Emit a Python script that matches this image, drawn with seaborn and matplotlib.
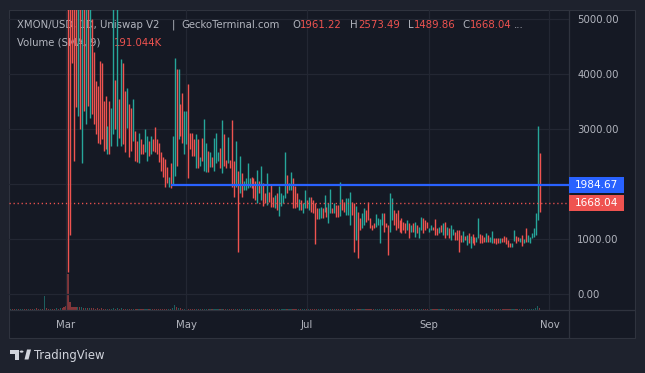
import pandas as pd
import matplotlib
matplotlib.use("Agg")
import matplotlib.pyplot as plt
import matplotlib.dates as mdates
import matplotlib.transforms as mtransforms
from matplotlib.patches import Rectangle, Polygon, Circle
from matplotlib.lines import Line2D
import seaborn as sns

# XMON/USD daily bars, first bar on 2 Feb 2024 (February bars sit above the visible range)
start_date = "2024-02-02"

highs = [
    9800, 9500, 8900, 9200, 8800, 8600, 8900, 8700, 8400, 8600,
    8300, 8100, 8400, 8200, 8000, 8300, 8100, 9400, 8800, 8500,
    8200, 7900, 7700, 7900, 7600, 7400, 7300, 7200, 7000, 6800,
    6200, 5900, 5800, 5700, 5600, 5500, 5500, 5500, 5600, 5400,
    5400, 5000, 4400, 3870, 3780, 4240, 4200, 3510, 3600, 3060,
    3510, 3390, 5400, 3900, 5400, 3550, 4270, 4200, 3700, 3750,
    3460, 3390, 3550, 2970, 2790, 2940, 2830, 2740, 3010, 2880,
    2790, 2880, 2830, 3050, 2830, 2760, 2580, 2490, 2470, 2310,
    2130, 2380, 2880, 4300, 4090, 4090, 3460, 3660, 3330, 3330,
    3820, 2940, 2940, 2830, 2920, 2830, 2490, 2850, 3190, 2760,
    2610, 2580, 2490, 2850, 2940, 2580, 2670, 3170, 2920, 2450,
    2870, 2450, 3170, 2430, 2790, 2250, 2520, 2200, 2070, 2110,
    2380, 2110, 2130, 2110, 2070, 2270, 2070, 2340, 2020, 1840,
    2200, 1860, 2000, 1780, 1800, 1840, 1980, 1840, 1800, 2580,
    2180, 2020, 2230, 2110, 1980, 1840, 1730, 1710, 1660, 1890,
    1710, 1770, 1770, 1710, 1660, 1570, 1570, 1590, 1570, 1800,
    1590, 1660, 1910, 1570, 1660, 1620, 1620, 2050, 1730, 1680,
    1750, 1750, 1870, 1680, 1660, 1600, 1500, 1390, 1480, 1570,
    1530, 1680, 1390, 1260, 1300, 1460, 1390, 1370, 1480, 1480,
    1300, 1260, 1840, 1750, 1530, 1480, 1530, 1350, 1390, 1320,
    1300, 1350, 1300, 1260, 1300, 1320, 1260, 1230, 1410, 1390,
    1350, 1320, 1210, 1260, 1230, 1370, 1210, 1230, 1260, 1300,
    1320, 1230, 1210, 1260, 1190, 1140, 1170, 1170, 1080, 1150,
    1060, 1080, 1120, 1060, 1100, 1050, 1050, 1390, 1100, 1080,
    1050, 1120, 1080, 1050, 1150, 1030, 1030, 1030, 1030, 1030,
    1060, 1050, 990, 940, 940, 1170, 1060, 1050, 1030, 1080,
    1010, 1210, 1080, 1050, 1120, 1210, 1480, 3060, 2573.49,
]

lows = [
    7400, 7200, 6900, 7000, 6800, 6600, 6900, 6700, 6500, 6600,
    6400, 6300, 6500, 6400, 6200, 6300, 6200, 6400, 6600, 6400,
    6200, 6000, 5900, 6000, 5800, 5700, 5600, 5500, 5400, 400,
    1080, 4200, 2430, 3400, 3240, 3010, 2380, 3330, 3100, 3420,
    3210, 3280, 3100, 2920, 2760, 2740, 2830, 2610, 2650, 2560,
    2560, 2700, 2920, 3000, 2700, 2850, 2700, 2740, 2590, 3030,
    2490, 2610, 2790, 2430, 2400, 2380, 2560, 2560, 2580, 2430,
    2520, 2560, 2610, 2580, 2560, 2400, 2250, 2130, 1950, 2020,
    1960, 1930, 1985, 2160, 2330, 2830, 2880, 2760, 2560, 2740,
    2110, 2650, 2520, 2520, 2290, 2290, 2340, 2430, 2250, 2220,
    2220, 2310, 2310, 2250, 2380, 2430, 2290, 2200, 2340, 2290,
    2380, 2290, 1950, 1770, 1950, 780, 1840, 1770, 1890, 1890,
    1930, 1950, 1930, 1750, 1710, 1660, 1840, 1710, 1600, 1660,
    1620, 1680, 1590, 1590, 1570, 1530, 1420, 1600, 1660, 1750,
    1840, 1890, 1890, 1570, 1570, 1590, 1530, 1530, 1480, 1570,
    1570, 1530, 1500, 1480, 920, 1370, 1370, 1390, 1390, 1500,
    1410, 1300, 1480, 1480, 1480, 1410, 1410, 1420, 1530, 1500,
    1440, 1440, 1260, 1440, 780, 990, 670, 1170, 1210, 1260,
    1320, 1350, 1210, 1170, 1210, 1230, 1260, 940, 1260, 1140,
    1230, 720, 1140, 1350, 1260, 1170, 1210, 1140, 1120, 1170,
    1120, 1170, 1030, 1140, 1140, 1050, 1120, 1030, 1170, 1120,
    1170, 1210, 1140, 1170, 1170, 1080, 1080, 1120, 1140, 1080,
    1030, 1080, 1030, 990, 1080, 990, 990, 780, 960, 960,
    990, 900, 940, 850, 940, 900, 960, 1030, 940, 940,
    960, 960, 960, 960, 940, 940, 920, 940, 940, 960,
    960, 920, 870, 870, 870, 970, 940, 970, 960, 880,
    940, 960, 960, 940, 1030, 1050, 1080, 1350, 1489.86,
]

# 1 = green bar (close above open), 0 = red bar
up = [
    1, 0, 0, 1, 0, 1, 1, 0, 0, 1,
    0, 0, 1, 0, 0, 1, 0, 1, 0, 0,
    1, 0, 0, 1, 0, 1, 0, 0, 0, 0,
    0, 0, 0, 0, 1, 0, 1, 0, 1, 0,
    1, 0, 0, 0, 0, 0, 0, 0, 0, 1,
    0, 1, 1, 0, 1, 0, 1, 0, 0, 1,
    0, 0, 1, 0, 0, 1, 0, 0, 1, 1,
    0, 1, 0, 0, 0, 0, 0, 0, 0, 0,
    1, 0, 1, 1, 0, 1, 0, 0, 1, 1,
    0, 0, 0, 0, 1, 0, 1, 0, 1, 1,
    0, 1, 0, 1, 1, 1, 0, 1, 0, 0,
    1, 0, 0, 0, 1, 0, 1, 0, 1, 1,
    1, 1, 0, 0, 0, 1, 0, 1, 0, 0,
    1, 0, 0, 0, 1, 0, 1, 1, 1, 1,
    0, 1, 1, 0, 0, 0, 1, 0, 1, 1,
    0, 1, 0, 0, 0, 0, 1, 1, 0, 1,
    0, 1, 1, 0, 1, 0, 0, 1, 0, 0,
    1, 1, 1, 0, 0, 1, 0, 0, 1, 1,
    0, 0, 0, 0, 0, 1, 1, 1, 1, 0,
    0, 0, 1, 1, 0, 0, 0, 0, 0, 0,
    0, 1, 0, 1, 0, 1, 0, 1, 1, 0,
    0, 0, 1, 1, 0, 0, 0, 1, 0, 1,
    0, 1, 0, 1, 1, 0, 0, 0, 0, 1,
    0, 1, 0, 1, 0, 0, 1, 1, 0, 0,
    0, 1, 0, 1, 1, 0, 0, 0, 1, 0,
    0, 0, 0, 0, 1, 1, 0, 0, 1, 0,
    1, 0, 1, 1, 1, 1, 1, 1, 0,
]

# daily volume, millions USD
volume_m = [
    0.12, 0.10, 0.13, 0.11, 0.12, 0.10, 0.14, 0.12, 0.11, 0.13,
    0.12, 0.10, 0.14, 0.20, 0.12, 0.15, 0.14, 1.45, 0.16, 0.12,
    0.14, 0.12, 0.15, 0.18, 0.13, 0.16, 0.22, 0.28, 0.38, 3.65,
    0.82, 0.30, 0.26, 0.35, 0.30, 0.28, 0.26, 0.22, 0.25, 0.20,
    0.22, 0.18, 0.16, 0.15, 0.18, 0.14, 0.16, 0.13, 0.15, 0.14,
    0.13, 0.15, 0.20, 0.14, 0.18, 0.13, 0.16, 0.14, 0.12, 0.14,
    0.12, 0.13, 0.12, 0.14, 0.11, 0.13, 0.12, 0.11, 0.12, 0.13,
    0.11, 0.12, 0.12, 0.11, 0.13, 0.12, 0.11, 0.12, 0.14, 0.13,
    0.12, 0.15, 0.20, 0.48, 0.30, 0.20, 0.16, 0.14, 0.13, 0.12,
    0.15, 0.12, 0.11, 0.12, 0.13, 0.11, 0.12, 0.10, 0.13, 0.12,
    0.11, 0.12, 0.10, 0.12, 0.13, 0.11, 0.12, 0.13, 0.11, 0.10,
    0.12, 0.11, 0.13, 0.12, 0.12, 0.15, 0.12, 0.11, 0.10, 0.12,
    0.11, 0.10, 0.12, 0.11, 0.12, 0.13, 0.10, 0.12, 0.11, 0.10,
    0.12, 0.11, 0.12, 0.10, 0.11, 0.12, 0.13, 0.11, 0.10, 0.14,
    0.12, 0.11, 0.12, 0.12, 0.11, 0.10, 0.11, 0.10, 0.11, 0.12,
    0.10, 0.11, 0.12, 0.11, 0.14, 0.11, 0.10, 0.11, 0.10, 0.12,
    0.10, 0.11, 0.12, 0.10, 0.11, 0.10, 0.11, 0.13, 0.11, 0.10,
    0.11, 0.10, 0.12, 0.11, 0.14, 0.12, 0.15, 0.11, 0.10, 0.11,
    0.10, 0.11, 0.10, 0.11, 0.10, 0.11, 0.10, 0.12, 0.11, 0.10,
    0.11, 0.13, 0.12, 0.11, 0.10, 0.11, 0.10, 0.10, 0.11, 0.10,
    0.10, 0.11, 0.10, 0.10, 0.11, 0.10, 0.11, 0.10, 0.11, 0.10,
    0.10, 0.11, 0.10, 0.11, 0.10, 0.11, 0.10, 0.10, 0.11, 0.10,
    0.11, 0.10, 0.10, 0.11, 0.10, 0.10, 0.11, 0.12, 0.10, 0.10,
    0.10, 0.11, 0.10, 0.11, 0.10, 0.10, 0.11, 0.12, 0.10, 0.10,
    0.10, 0.11, 0.10, 0.11, 0.11, 0.10, 0.10, 0.10, 0.11, 0.10,
    0.10, 0.10, 0.11, 0.10, 0.10, 0.12, 0.10, 0.10, 0.11, 0.10,
    0.10, 0.11, 0.10, 0.10, 0.11, 0.12, 0.22, 0.36, 0.20,
]

last_ohlc = ["1961.22", "2573.49", "1489.86", "1668.04"]
vol_sma_text = "191.044K"
level_price = 1984.67
level_start = 81          # bar where the drawn horizontal ray begins
last_close = 1668.04
price_ticks = [0, 1000, 2000, 3000, 4000, 5000]
price_tick_labels = ["0.00", "1000.00", "", "3000.00", "4000.00", "5000.00"]

df = pd.DataFrame({"high": highs, "low": lows, "up": up, "volume": volume_m})
df["date"] = pd.date_range(start_date, periods=len(df), freq="D")

GREEN = "#26a69a"
RED = "#ef5350"
BLUE = "#2962ff"
OUTER = "#1e222d"
PANEL = "#151924"
GRID = "#232733"
SEP = "#2f333e"
TEXT = "#b2b5be"

sns.set_theme(style="dark", rc={"axes.facecolor": PANEL, "figure.facecolor": OUTER})
plt.rcParams["font.family"] = ["DejaVu Sans"]

W, H = 645, 373


def fx(px):
    return px / W


def fy(py):
    return 1 - py / H


fig = plt.figure(figsize=(6.45, 3.73), dpi=100, facecolor=OUTER)
fig.patches.append(Rectangle((fx(9), fy(338)), fx(635) - fx(9), fy(10) - fy(338),
                             transform=fig.transFigure, facecolor=PANEL,
                             edgecolor=SEP, lw=0.8, zorder=-5))

ax = fig.add_axes([fx(9), fy(310), fx(569) - fx(9), fy(10) - fy(310)])
vol_ax = ax.twinx()
vol_ax.set_zorder(2)
ax.set_zorder(3)
ax.patch.set_visible(False)
vol_ax.patch.set_visible(False)

x0 = df["date"].iloc[0]
xmin = x0 - pd.Timedelta(days=0.91)
xmax = x0 + pd.Timedelta(days=282.9)
ymin, ymax = -282, 5169

# volume overlay
vol_colors = [GREEN if u else RED for u in df["up"]]
vol_ax.bar(df["date"], df["volume"], width=0.6, color=vol_colors, alpha=0.5, linewidth=0)
vol_ax.set_ylim(0, 30)
vol_ax.set_yticks([])
vol_ax.set_xlim(xmin, xmax)
for s in vol_ax.spines.values():
    s.set_visible(False)

# candles (bars are about one pixel wide at this zoom)
bar_colors = [GREEN if u else RED for u in df["up"]]
ax.vlines(df["date"], df["low"], df["high"], colors=bar_colors, lw=1.0, zorder=2)

ax.hlines(level_price, df["date"].iloc[level_start], xmax, color=BLUE, lw=1.6, zorder=3)
ax.axhline(last_close, color=RED, lw=1.0, ls=(0, (0.9, 2.0)), zorder=3)

ax.set_xlim(xmin, xmax)
ax.set_ylim(ymin, ymax)
ax.set_axisbelow(True)
ax.grid(True, color=GRID, lw=0.9)
ax.set_yticks(price_ticks)
ax.set_yticklabels(price_tick_labels)
ax.yaxis.tick_right()
ax.xaxis.set_major_locator(mdates.MonthLocator(bymonth=[3, 5, 7, 9, 11]))
ax.xaxis.set_major_formatter(mdates.DateFormatter("%b"))
ax.tick_params(axis="y", length=0, pad=6, labelsize=7.3, labelcolor=TEXT)
ax.tick_params(axis="x", length=0, pad=7, labelsize=7.3, labelcolor=TEXT)
for s in ax.spines.values():
    s.set_visible(False)

# price-scale labels
trans = mtransforms.blended_transform_factory(ax.transAxes, ax.transData)
half = 8 * (ymax - ymin) / 300
box_w = 55 / 560
for val, col in [(level_price, BLUE), (last_close, RED)]:
    ax.add_patch(Rectangle((1.0, val - half), box_w, 2 * half, transform=trans,
                           facecolor=col, edgecolor="none", clip_on=False, zorder=6))
    ax.text(1.0 + box_w / 2, val, f"{val:.2f}", transform=trans, ha="center", va="center",
            color="white", fontsize=7.6, clip_on=False, zorder=7)

# pane separators
fig.lines.append(Line2D([fx(569), fx(569)], [fy(10), fy(338)], transform=fig.transFigure,
                        color=SEP, lw=0.9))
fig.lines.append(Line2D([fx(9), fx(635)], [fy(310), fy(310)], transform=fig.transFigure,
                        color=SEP, lw=0.9))

# legend lines in the top-left corner (bars draw over them)
legend_row1 = [
    (17, "XMON/USD, 1D, Uniswap V2", TEXT),
    (172, "|", TEXT),
    (181, "GeckoTerminal.com", TEXT),
    (292, "O", TEXT), (300, last_ohlc[0], RED),
    (350, "H", TEXT), (358, last_ohlc[1], RED),
    (408, "L", TEXT), (414, last_ohlc[2], RED),
    (462, "C", TEXT), (470, last_ohlc[3], RED),
    (514, "...", TEXT),
]
for px, s, col in legend_row1:
    ax.text(fx(px), fy(25), s, transform=fig.transFigure, ha="left", va="center",
            fontsize=7.3, color=col, zorder=1)
ax.text(fx(17), fy(42.5), "Volume (SMA, 9)", transform=fig.transFigure, ha="left",
        va="center", fontsize=7.3, color=TEXT, zorder=1)
ax.text(fx(114), fy(42.5), vol_sma_text, transform=fig.transFigure, ha="left",
        va="center", fontsize=7.3, color=RED, zorder=1)

# TradingView footer logo
LOGO = "#d1d4dc"
fig.patches.append(Polygon([(fx(10), fy(349.5)), (fx(19), fy(349.5)), (fx(19), fy(359.5)),
                            (fx(15), fy(359.5)), (fx(15), fy(353.5)), (fx(10), fy(353.5))],
                           closed=True, transform=fig.transFigure, facecolor=LOGO, edgecolor="none"))
fig.patches.append(Circle((fx(21.6), fy(351.6)), 1.9 / W, transform=fig.transFigure,
                          facecolor=LOGO, edgecolor="none"))
fig.patches.append(Polygon([(fx(24.5), fy(359.5)), (fx(28.5), fy(359.5)), (fx(31), fy(349.5)),
                            (fx(27), fy(349.5))],
                           closed=True, transform=fig.transFigure, facecolor=LOGO, edgecolor="none"))
fig.text(fx(33.5), fy(355.5), "TradingView", ha="left", va="center", fontsize=8.4, color=LOGO)

fig.savefig("out.png", dpi=100, facecolor=OUTER)
